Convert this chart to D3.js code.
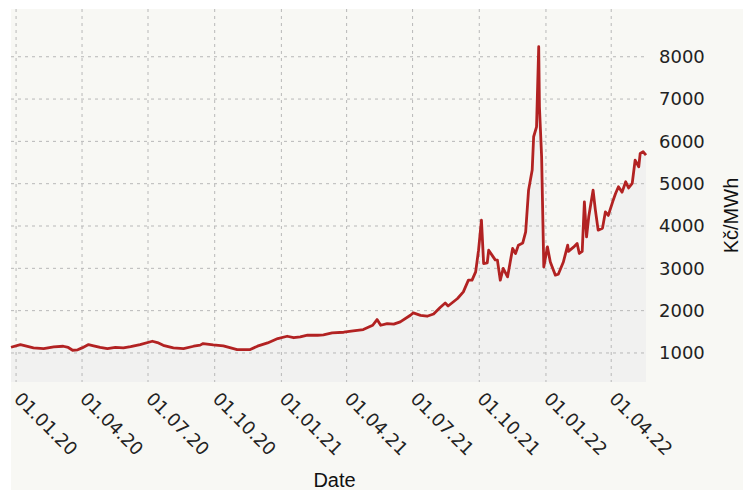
<!DOCTYPE html>
<html>
<head>
<meta charset="utf-8">
<script src="https://cdn.jsdelivr.net/npm/d3@7"></script>
<style>
    body { margin: 0; background: #ffffff; }
    svg { display: block; }
</style>
</head>
<body>
<div id="chart"></div>
<script>
// dates and prices (Kč/MWh)
const dates = [
    "2019-12-25", "2020-01-07", "2020-01-25", "2020-02-08", "2020-02-22", "2020-03-06",
    "2020-03-13", "2020-03-19", "2020-03-26", "2020-04-01", "2020-04-10", "2020-04-17",
    "2020-04-26", "2020-05-06", "2020-05-17", "2020-05-28", "2020-06-07", "2020-06-20",
    "2020-07-07", "2020-07-14", "2020-07-22", "2020-08-05", "2020-08-19", "2020-09-02",
    "2020-09-11", "2020-09-15", "2020-09-29", "2020-10-13", "2020-11-01", "2020-11-19",
    "2020-11-29", "2020-12-13", "2020-12-27", "2021-01-09", "2021-01-18", "2021-01-27",
    "2021-02-06", "2021-02-20", "2021-02-28", "2021-03-12", "2021-03-28", "2021-04-10",
    "2021-04-24", "2021-05-07", "2021-05-13", "2021-05-18", "2021-05-27", "2021-06-05",
    "2021-06-14", "2021-06-28", "2021-07-02", "2021-07-12", "2021-07-21", "2021-07-30",
    "2021-08-08", "2021-08-15", "2021-08-19", "2021-09-01", "2021-09-09", "2021-09-16",
    "2021-09-21", "2021-09-26", "2021-09-30", "2021-10-04", "2021-10-07", "2021-10-12",
    "2021-10-14", "2021-10-19", "2021-10-23", "2021-10-26", "2021-10-29", "2021-10-30",
    "2021-11-03", "2021-11-09", "2021-11-16", "2021-11-20", "2021-11-24", "2021-11-30",
    "2021-12-04", "2021-12-08", "2021-12-13", "2021-12-15", "2021-12-19", "2021-12-22",
    "2021-12-23", "2021-12-26", "2021-12-29", "2022-01-03", "2022-01-07", "2022-01-14",
    "2022-01-18", "2022-01-25", "2022-01-31", "2022-02-01", "2022-02-08", "2022-02-13",
    "2022-02-16", "2022-02-20", "2022-02-23", "2022-02-26", "2022-03-01", "2022-03-07",
    "2022-03-10", "2022-03-14", "2022-03-20", "2022-03-24", "2022-03-28", "2022-04-03",
    "2022-04-07", "2022-04-11", "2022-04-16", "2022-04-21", "2022-04-25", "2022-04-30",
    "2022-05-04", "2022-05-09", "2022-05-11", "2022-05-15", "2022-05-19"
];
const prices = [
    1135, 1199, 1120, 1104, 1142, 1159,
    1130, 1064, 1075, 1120, 1199, 1170,
    1130, 1104, 1130, 1120, 1150, 1199,
    1277, 1245, 1180, 1120, 1104, 1159,
    1185, 1222, 1190, 1166, 1081, 1081,
    1160, 1237, 1340, 1395, 1360, 1380,
    1419, 1419, 1430, 1473, 1490, 1521,
    1553, 1655, 1790, 1655, 1695, 1680,
    1734, 1892, 1947, 1890, 1868, 1920,
    2073, 2180, 2110, 2287, 2443, 2720,
    2720, 2917, 3429, 4139, 3114, 3130,
    3429, 3300, 3200, 3193, 2838, 2720,
    3000, 2798, 3469, 3350, 3548, 3600,
    3863, 4848, 5321, 6109, 6345, 8237,
    6818, 5636, 3034, 3508, 3150, 2838,
    2860, 3150, 3548, 3400, 3500, 3587,
    3351, 3400, 4572, 3744, 4217, 4848,
    4400, 3902, 3950, 4335, 4250, 4572,
    4769, 4927, 4800, 5045, 4900, 5006,
    5558, 5400, 5716, 5755, 5676
];
const yTicks = [1000, 2000, 3000, 4000, 5000, 6000, 7000, 8000];
const xTicks = ["2020-01-01", "2020-04-01", "2020-07-01", "2020-10-01",
    "2021-01-01", "2021-04-01", "2021-07-01", "2021-10-01",
    "2022-01-01", "2022-04-01"];
const yDomain = [314, 9128];

const parseDate = d3.timeParse("%Y-%m-%d");
const data = dates.map((d, i) => ({ date: parseDate(d), value: prices[i] }));

const width = 743;
const height = 490;
const box = { left: 11, top: 9 };
const plot = { left: 11, right: 646, top: 9, bottom: 382 };

const svg = d3.select("#chart")
    .append("svg")
    .attr("width", width)
    .attr("height", height);

// panel background
svg.append("rect")
    .attr("x", box.left)
    .attr("y", box.top)
    .attr("width", width - box.left)
    .attr("height", height - box.top)
    .attr("fill", "#f8f8f4");

const x = d3.scaleTime()
    .domain(d3.extent(data, d => d.date))
    .range([plot.left, plot.right]);

const y = d3.scaleLinear()
    .domain(yDomain)
    .range([plot.bottom, plot.top]);

// area under the line
const area = d3.area()
    .x(d => x(d.date))
    .y0(plot.bottom)
    .y1(d => y(d.value));

svg.append("path")
    .datum(data)
    .attr("d", area)
    .attr("fill", "#eeeeee")
    .attr("opacity", 0.7);

// grid
const xTickDates = xTicks.map(parseDate);

svg.append("g")
    .selectAll("line")
    .data(xTickDates)
    .enter().append("line")
    .attr("x1", d => x(d))
    .attr("x2", d => x(d))
    .attr("y1", plot.top)
    .attr("y2", plot.bottom)
    .attr("stroke", "#b8b8b8")
    .attr("stroke-dasharray", "3,4");

svg.append("g")
    .selectAll("line")
    .data(yTicks)
    .enter().append("line")
    .attr("x1", plot.left)
    .attr("x2", plot.right)
    .attr("y1", d => y(d))
    .attr("y2", d => y(d))
    .attr("stroke", "#b8b8b8")
    .attr("stroke-dasharray", "3,4");

// price line
const line = d3.line()
    .x(d => x(d.date))
    .y(d => y(d.value));

svg.append("path")
    .datum(data)
    .attr("d", line)
    .attr("fill", "none")
    .attr("stroke", "#b22222")
    .attr("stroke-width", 2.8)
    .attr("stroke-linejoin", "round");

// right axis labels
const yAxis = svg.append("g")
    .attr("transform", `translate(${plot.right},0)`)
    .call(d3.axisRight(y).tickValues(yTicks).tickSize(0).tickPadding(13).tickFormat(d3.format("d")));
yAxis.select(".domain").remove();
yAxis.selectAll("text")
    .style("font-family", "'DejaVu Sans', Verdana, sans-serif")
    .style("font-size", "18px")
    .attr("fill", "#222");

// bottom axis labels, rotated
const fmt = d3.timeFormat("%d.%m.%y");
svg.append("g")
    .selectAll("text")
    .data(xTickDates)
    .enter().append("text")
    .attr("transform", d => `translate(${x(d) - 3},400) rotate(45)`)
    .style("font-family", "'DejaVu Sans', Verdana, sans-serif")
    .style("font-size", "18px")
    .attr("fill", "#222")
    .text(d => fmt(d));

svg.append("text")
    .attr("x", (plot.left + plot.right) / 2 + 6)
    .attr("y", 487)
    .style("text-anchor", "middle")
    .style("font-family", "'Liberation Sans', Arial, sans-serif")
    .style("font-size", "20px")
    .attr("fill", "#111")
    .text("Date");

svg.append("text")
    .attr("transform", `translate(738,${(plot.top + plot.bottom) / 2 + 20}) rotate(-90)`)
    .style("text-anchor", "middle")
    .style("font-family", "'Liberation Sans', Arial, sans-serif")
    .style("font-size", "20px")
    .attr("fill", "#111")
    .text("Kč/MWh");
</script>
</body>
</html>
